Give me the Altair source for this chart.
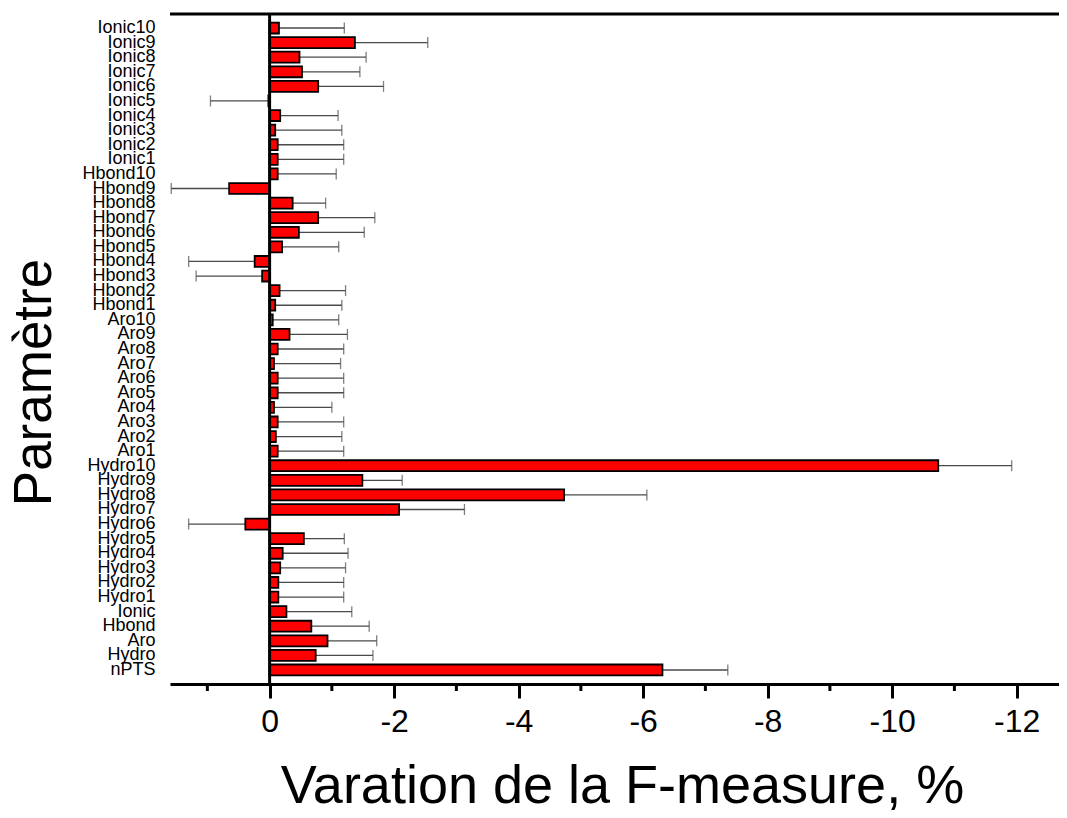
import altair as alt
import pandas as pd

# Categories, top to bottom
params = ["Ionic10", "Ionic9", "Ionic8", "Ionic7", "Ionic6", "Ionic5", "Ionic4", "Ionic3",
          "Ionic2", "Ionic1", "Hbond10", "Hbond9", "Hbond8", "Hbond7", "Hbond6", "Hbond5",
          "Hbond4", "Hbond3", "Hbond2", "Hbond1", "Aro10", "Aro9", "Aro8", "Aro7", "Aro6",
          "Aro5", "Aro4", "Aro3", "Aro2", "Aro1", "Hydro10", "Hydro9", "Hydro8", "Hydro7",
          "Hydro6", "Hydro5", "Hydro4", "Hydro3", "Hydro2", "Hydro1", "Ionic", "Hbond",
          "Aro", "Hydro", "nPTS"]

# Variation of the F-measure (%)
values = [-0.15, -1.37, -0.48, -0.52, -0.78, 0.02, -0.17, -0.09,
          -0.13, -0.13, -0.13, 0.65, -0.37, -0.78, -0.47, -0.20,
          0.24, 0.12, -0.16, -0.09, -0.05, -0.32, -0.13, -0.07, -0.13,
          -0.13, -0.07, -0.13, -0.10, -0.13, -10.74, -1.49, -4.73, -2.08,
          0.39, -0.55, -0.21, -0.17, -0.14, -0.14, -0.27, -0.67,
          -0.93, -0.74, -6.31]

# One-sided error lengths
errors = [1.05, 1.17, 1.07, 0.93, 1.05, 0.93, 0.93, 1.07,
          1.06, 1.06, 0.94, 0.93, 0.53, 0.91, 1.05, 0.91,
          1.06, 1.06, 1.06, 1.07, 1.06, 0.93, 1.06, 1.07, 1.06,
          1.06, 0.93, 1.06, 1.06, 1.06, 1.18, 0.64, 1.33, 1.05,
          0.91, 0.65, 1.05, 1.05, 1.05, 1.05, 1.05, 0.93,
          0.79, 0.92, 1.05]

major_ticks = [0, -2, -4, -6, -8, -10, -12]
minor_ticks = [1, -1, -3, -5, -7, -9, -11]

df = pd.DataFrame({"param": params, "v": values, "err": errors})
df["end"] = df["v"] + df["err"] * df["v"].apply(lambda a: 1 if a >= 0 else -1)

W, H = 889, 670
FONT = "Liberation Sans"

xscale = alt.Scale(domain=[-12.68, 1.6], reverse=True, nice=False, zero=False)
xaxis = alt.Axis(values=major_ticks, labelExpr="toString(datum.value)",
                 title="Varation de la F-measure, %",
                 grid=False, domainColor="black", domainWidth=3, tickColor="black",
                 tickWidth=3, tickSize=14, labelFontSize=32, labelPadding=8,
                 labelColor="black", labelFont=FONT, titleFont=FONT, titleFontSize=54,
                 titleFontWeight="normal", titleColor="black", titleY=118, titleX=452,
                 titleBaseline="alphabetic", labelFlush=False)
yscale = alt.Scale(paddingInner=0.25, paddingOuter=0.585)
yaxis = alt.Axis(title="Paramètre", domain=False, ticks=False, tickSize=0, labelPadding=15,
                 labelFontSize=18, labelFont=FONT, labelColor="black", labelOverlap=False,
                 titleFont=FONT, titleFontSize=53, titleFontWeight="normal",
                 titleColor="black", titleAngle=-90, titleX=-136, titleY=368,
                 titleAlign="center", titleBaseline="middle")


def X(field):
    return alt.X(f"{field}:Q", scale=xscale, axis=xaxis)


def Y():
    return alt.Y("param:N", sort=params, scale=yscale, axis=yaxis)


base = alt.Chart(df)

err_line = base.mark_rule(color="#4a4a4a", strokeWidth=1.3).encode(
    x=X("v"), x2="end:Q", y=Y())
err_cap = base.mark_tick(color="#4a4a4a", thickness=1.3, size=11, orient="vertical").encode(
    x=X("end"), y=Y())
bars = base.mark_bar(color="#ff0000", stroke="black", strokeWidth=1.8).encode(
    x=X("v"), y=Y())

zero_df = pd.DataFrame({"v": [0]})
zero_line = alt.Chart(zero_df).mark_rule(color="black", strokeWidth=3).encode(
    x=X("v"), y=alt.value(0), y2=alt.value(H))

minor_df = pd.DataFrame({"v": minor_ticks})
minor = alt.Chart(minor_df).mark_rule(color="black", strokeWidth=3).encode(
    x=X("v"), y=alt.value(H), y2=alt.value(H + 7))

top_line = alt.Chart(zero_df).mark_rule(color="black", strokeWidth=3).encode(
    x=alt.value(0), x2=alt.value(W), y=alt.value(0))

chart = alt.layer(err_line, err_cap, bars, zero_line, minor, top_line).properties(
    width=W, height=H,
    autosize=alt.AutoSizeParams(type="none"),
    padding={"left": 162, "top": 6, "right": 0, "bottom": 126},
    background="white",
).configure_view(stroke=None)

chart.save("out.html", embed_options={"renderer": "svg", "actions": False})
